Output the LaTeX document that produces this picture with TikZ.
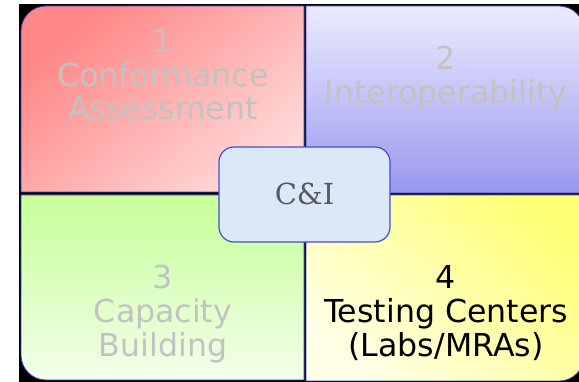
\documentclass[tikz,border=0pt]{standalone}
\usepackage{fontspec}
\newfontfamily\labfont{DejaVu Sans}
\newfontfamily\cifont{DejaVu Serif}
\definecolor{labgray}{HTML}{C2C2C2}
\definecolor{edgeblue}{HTML}{4040C0}
\definecolor{boxfill}{HTML}{DAE8F7}
\definecolor{boxedge}{HTML}{4A4AD0}
\definecolor{cigray}{HTML}{5A5A5A}
\tikzset{
  quad/.style={draw=edgeblue, line width=0.8pt},
  lab/.style={anchor=base, inner sep=0pt, font=\labfont\fontsize{31.6}{34}\selectfont, text=labgray},
  labdark/.style={lab, text=black}
}
\begin{document}
\begin{tikzpicture}[x=1pt,y=-1pt]
\useasboundingbox (0,0) rectangle (579,382);
\clip (0,0) rectangle (579,382);
\fill[black] (19,4) rectangle (590,390);
% top-left
\shade[quad, top color={rgb,255:red,255;green,134;blue,134}, bottom color={rgb,255:red,255;green,216;blue,216}, shading angle=40]
  (21,192) [rounded corners=25pt] -- (21,6) [sharp corners] -- (304,6) -- (304,192) -- cycle;
% top-right
\shade[quad, top color={rgb,255:red,236;green,236;blue,255}, bottom color={rgb,255:red,152;green,152;blue,238}]
  (306,6) [rounded corners=25pt] -- (584,6) [sharp corners] -- (584,193) -- (306,193) -- cycle;
% bottom-left
\shade[quad, top color={rgb,255:red,198;green,255;blue,152}, bottom color={rgb,255:red,242;green,255;blue,234}]
  (21,195) -- (304,195) -- (304,380) [rounded corners=25pt] -- (21,380) [sharp corners] -- cycle;
% bottom-right
\shade[quad, top color={rgb,255:red,255;green,255;blue,118}, bottom color={rgb,255:red,255;green,255;blue,230}, shading angle=-40]
  (306,195) -- (584,195) [rounded corners=25pt] -- (584,381) [sharp corners] -- (306,381) -- cycle;
% labels
\node[lab] (n1) at (163,53) {1};
\node[lab] (n1a) at (163,87) {Conformance};
\node[lab] (n1b) at (163,120) {Assessment};
\node[lab] (n2) at (446,70) {2};
\node[lab] (n2a) at (446,104) {Interoperability};
\node[lab] (n3) at (163,289) {3};
\node[lab] (n3a) at (163,323) {Capacity};
\node[lab] (n3b) at (163,357) {Building};
\node[labdark] (n4) at (446,289) {4};
\node[labdark] (n4a) at (446,323) {Testing Centers};
\node[labdark] (n4b) at (446,357) {(Labs/MRAs)};
% centre
\draw[fill=boxfill, draw=boxedge, line width=1.2pt, rounded corners=15pt] (219,147) rectangle (390,242);
\node[anchor=base, inner sep=0pt, text=cigray, font=\cifont\fontsize{29}{34}\selectfont] (ci) at (304.5,205) {C\&I};
\end{tikzpicture}
\end{document}
